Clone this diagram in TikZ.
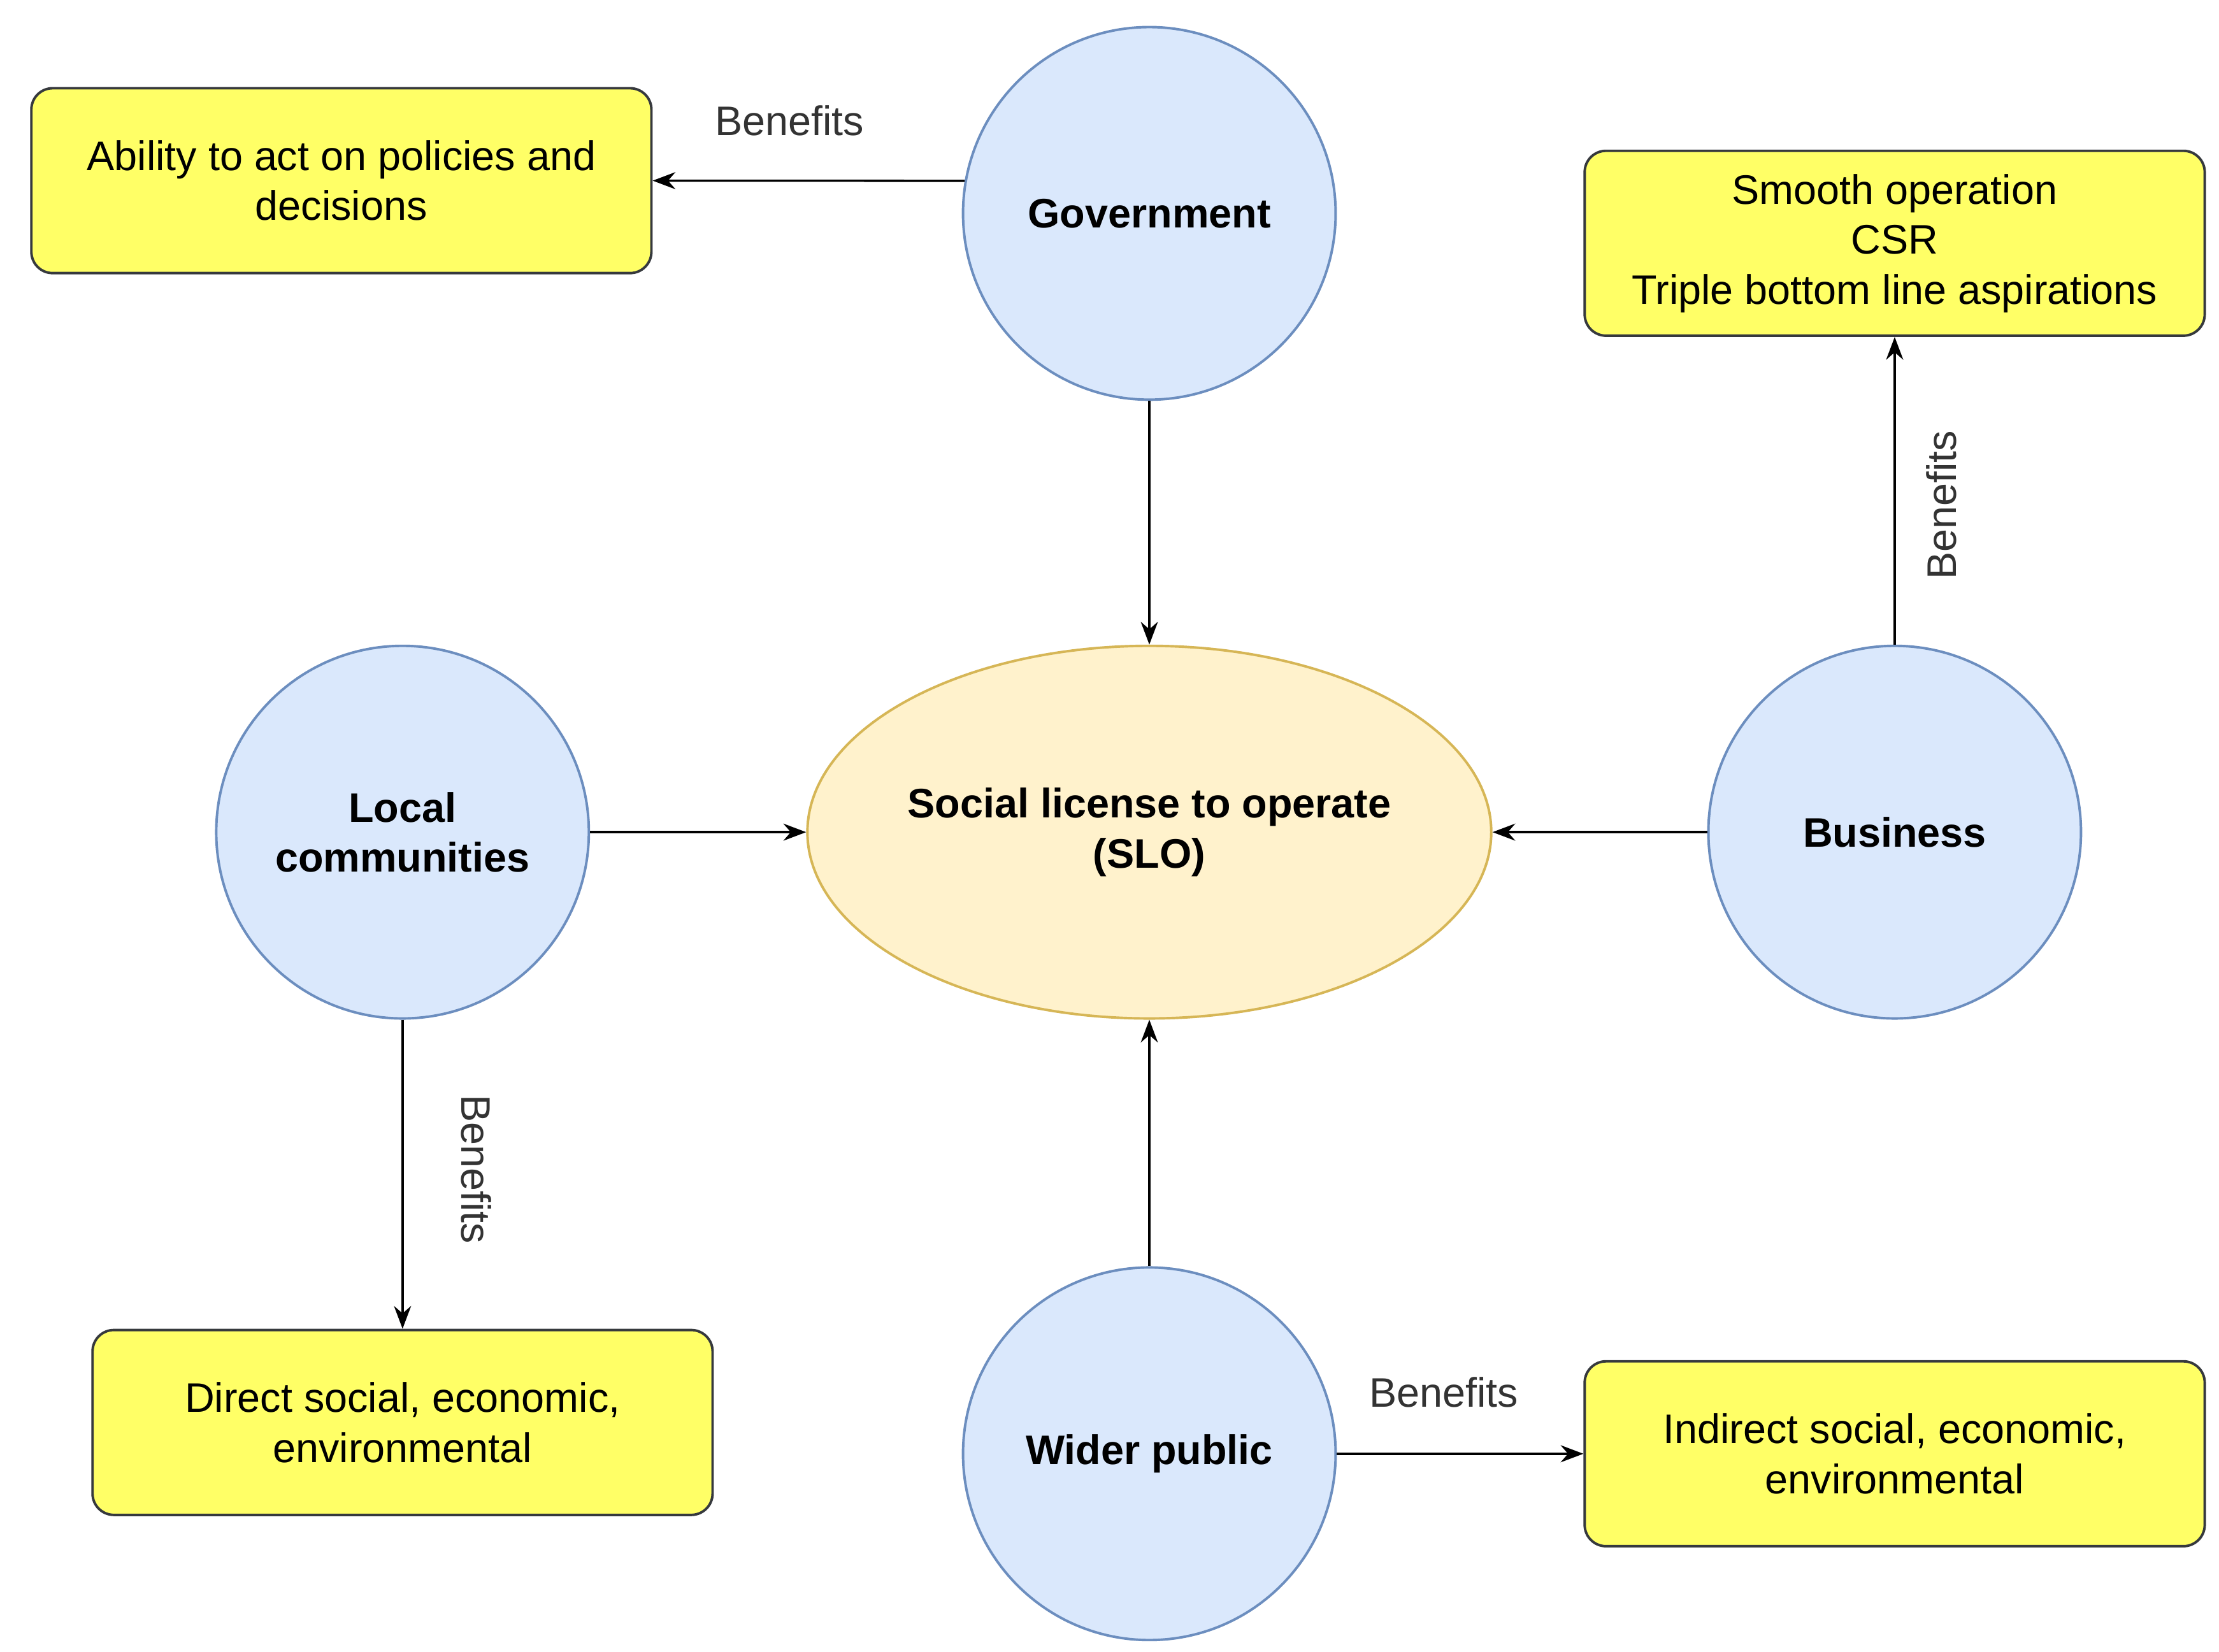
\documentclass[tikz,border=0pt]{standalone}
\usepackage{fontspec}
\setmainfont{Liberation Sans}
\usetikzlibrary{shapes.geometric,arrows.meta}
\definecolor{cfill}{HTML}{DAE8FC}\definecolor{cdraw}{HTML}{6C8EBF}
\definecolor{efill}{HTML}{FFF2CC}\definecolor{edraw}{HTML}{D6B656}
\definecolor{bfill}{HTML}{FFFF66}\definecolor{bdraw}{HTML}{36393D}
\begin{document}
\begin{tikzpicture}[x=0.02cm,y=-0.02cm,
  every node/.style={font=\fontsize{16.5}{20}\selectfont,align=center},
  circ/.style={circle,draw=cdraw,fill=cfill,line width=1pt,minimum size=5.24cm,inner sep=0pt,font=\fontsize{16.5}{20}\selectfont\bfseries},
  box/.style={rectangle,rounded corners=0.3cm,draw=bdraw,fill=bfill,line width=1pt,minimum width=8.72cm,minimum height=2.6cm,inner sep=0pt},
  arr/.style={-{Stealth[length=0.32cm,width=0.24cm]},line width=0.9pt,black},
  lbl/.style={font=\fontsize{16.5}{20}\selectfont,text=black!80}]
\useasboundingbox (0,0) rectangle (1560,1161);
\node[circ] (gov) at (808,150) {Government};
\node[ellipse,draw=edraw,fill=efill,line width=1pt,minimum width=8.72cm,minimum height=5.24cm,inner sep=0pt,font=\fontsize{16.5}{20}\selectfont\bfseries] (slo) at (808,585) {Social license to operate\\(SLO)};
\node[circ] (loc) at (283,585) {Local\\communities};
\node[circ] (bus) at (1332,585) {Business};
\node[circ] (pub) at (808,1022) {Wider public};
\node[box] (b1) at (240,127) {Ability to act on policies and\\decisions};
\node[box] (b2) at (1332,171) {Smooth operation\\CSR\\Triple bottom line aspirations};
\node[box] (b3) at (283,1000) {Direct social, economic,\\environmental};
\node[box] (b4) at (1332,1022) {Indirect social, economic,\\environmental};
\draw[arr] (gov.170) -- (b1.east);
\draw[arr] (gov) -- (slo);
\draw[arr] (loc) -- (slo);
\draw[arr] (bus) -- (slo);
\draw[arr] (pub) -- (slo);
\draw[arr] (loc) -- (b3);
\draw[arr] (bus) -- (b2);
\draw[arr] (pub) -- (b4);
\node[lbl] (l1) at (555,85) {Benefits};
\node[lbl,rotate=-90] (l2) at (335,822) {Benefits};
\node[lbl,rotate=90] (l3) at (1365,355) {Benefits};
\node[lbl] (l4) at (1015,979) {Benefits};
\end{tikzpicture}
\end{document}
